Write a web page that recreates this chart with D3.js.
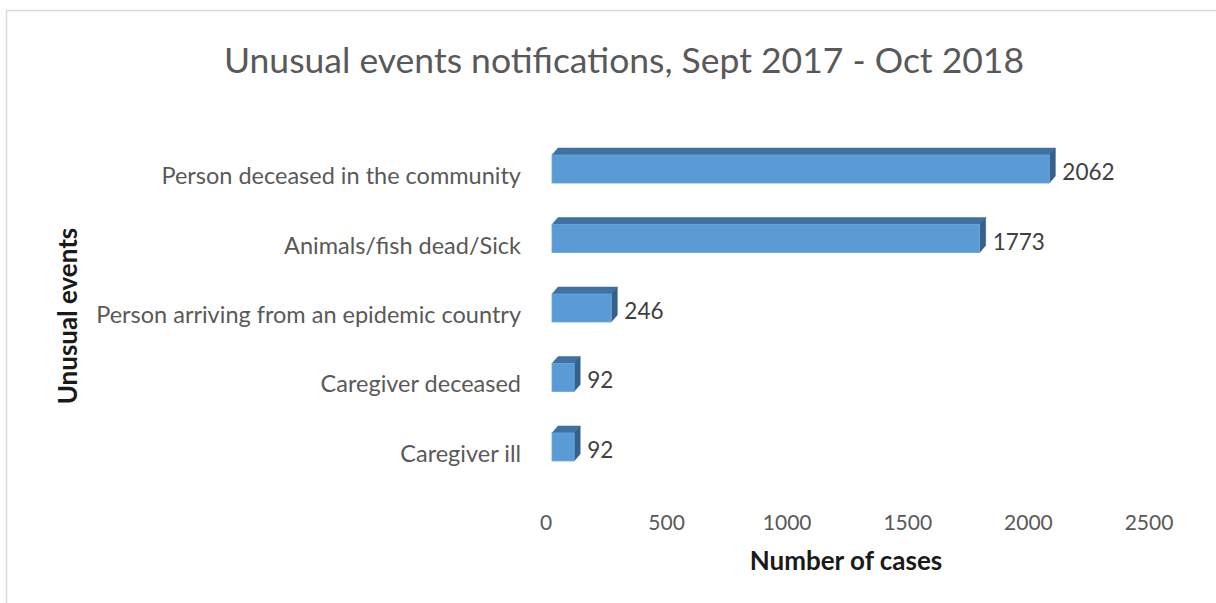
<!DOCTYPE html>
<html>
<head>
<meta charset="utf-8">
<script src="https://cdn.jsdelivr.net/npm/d3@7"></script>
<style>
  body { margin: 0; background: #fff; }
  text { font-family: Lato, "Open Sans", sans-serif; }
</style>
</head>
<body>
<svg id="chart" width="1216" height="603"></svg>
<script>
// data
const categories = [
  "Person deceased in the community",
  "Animals/fish dead/Sick",
  "Person arriving from an epidemic country",
  "Caregiver deceased",
  "Caregiver ill"
];
const cases = [2062, 1773, 246, 92, 92];
const xTicks = [0, 500, 1000, 1500, 2000, 2500];

const svg = d3.select("#chart");

// chart area border
svg.append("rect")
  .attr("x", 6.5).attr("y", 10.5)
  .attr("width", 1220).attr("height", 620)
  .attr("fill", "#fff")
  .attr("stroke", "#d9d9d9")
  .attr("stroke-width", 1.5);

const x = d3.scaleLinear().domain([0, 2500]).range([552, 1155]);
const y = d3.scaleBand()
  .domain(categories)
  .range([134.2, 481.8])
  .paddingInner(0.597)
  .paddingOuter(0.3);

const depthX = 6, depthY = 7;

// title
svg.append("text")
  .attr("x", 624).attr("y", 73)
  .attr("text-anchor", "middle")
  .attr("font-size", "35.5px")
  .attr("fill", "#595959")
  .text("Unusual events notifications, Sept 2017 - Oct 2018");

// x tick labels
svg.append("g")
  .selectAll("text")
  .data(xTicks)
  .enter()
  .append("text")
  .attr("x", d => x(d) - 6)
  .attr("y", 530)
  .attr("text-anchor", "middle")
  .attr("font-size", "21px")
  .attr("fill", "#595959")
  .text(d => d);

// category labels
svg.append("g")
  .selectAll("text")
  .data(categories)
  .enter()
  .append("text")
  .attr("x", 521)
  .attr("y", d => y(d) + y.bandwidth() + 1)
  .attr("text-anchor", "end")
  .attr("font-size", "23.5px")
  .attr("fill", "#595959")
  .text(d => d);

// bars
const bars = svg.append("g")
  .selectAll("g")
  .data(categories.map((c, i) => ({ name: c, value: cases[i] })))
  .enter()
  .append("g");

// top face
bars.append("path")
  .attr("d", d => {
    const x0 = x(0), x1 = x(d.value), y0 = y(d.name);
    return "M" + x0 + "," + y0 + "L" + (x0 + depthX) + "," + (y0 - depthY) +
      "L" + (x1 + depthX) + "," + (y0 - depthY) + "L" + x1 + "," + y0 + "Z";
  })
  .attr("fill", "#3f72a3")
  .attr("stroke", "#3a6d9e")
  .attr("stroke-width", 0.5);

// side face
bars.append("path")
  .attr("d", d => {
    const x1 = x(d.value), y0 = y(d.name), y1 = y0 + y.bandwidth();
    return "M" + x1 + "," + y0 + "L" + (x1 + depthX) + "," + (y0 - depthY) +
      "L" + (x1 + depthX) + "," + (y1 - depthY) + "L" + x1 + "," + y1 + "Z";
  })
  .attr("fill", "#34618c")
  .attr("stroke", "#2f5a84")
  .attr("stroke-width", 0.5);

// front face
bars.append("rect")
  .attr("x", x(0))
  .attr("y", d => y(d.name))
  .attr("width", d => x(d.value) - x(0))
  .attr("height", y.bandwidth())
  .attr("fill", "#5b9bd5")
  .attr("stroke", "#6aa5da")
  .attr("stroke-width", 0.8);

// value labels
bars.append("text")
  .attr("x", d => x(d.value) + depthX + 7)
  .attr("y", d => y(d.name) + y.bandwidth() - 3)
  .attr("font-size", "22.5px")
  .attr("fill", "#404040")
  .text(d => d.value);

// axis titles
svg.append("text")
  .attr("x", 846).attr("y", 570)
  .attr("text-anchor", "middle")
  .attr("font-size", "26px")
  .attr("font-weight", "bold")
  .attr("fill", "#1a1a1a")
  .text("Number of cases");

svg.append("text")
  .attr("transform", "translate(77,316) rotate(-90)")
  .attr("text-anchor", "middle")
  .attr("font-size", "26px")
  .attr("font-weight", "bold")
  .attr("fill", "#1a1a1a")
  .text("Unusual events");
</script>
</body>
</html>
